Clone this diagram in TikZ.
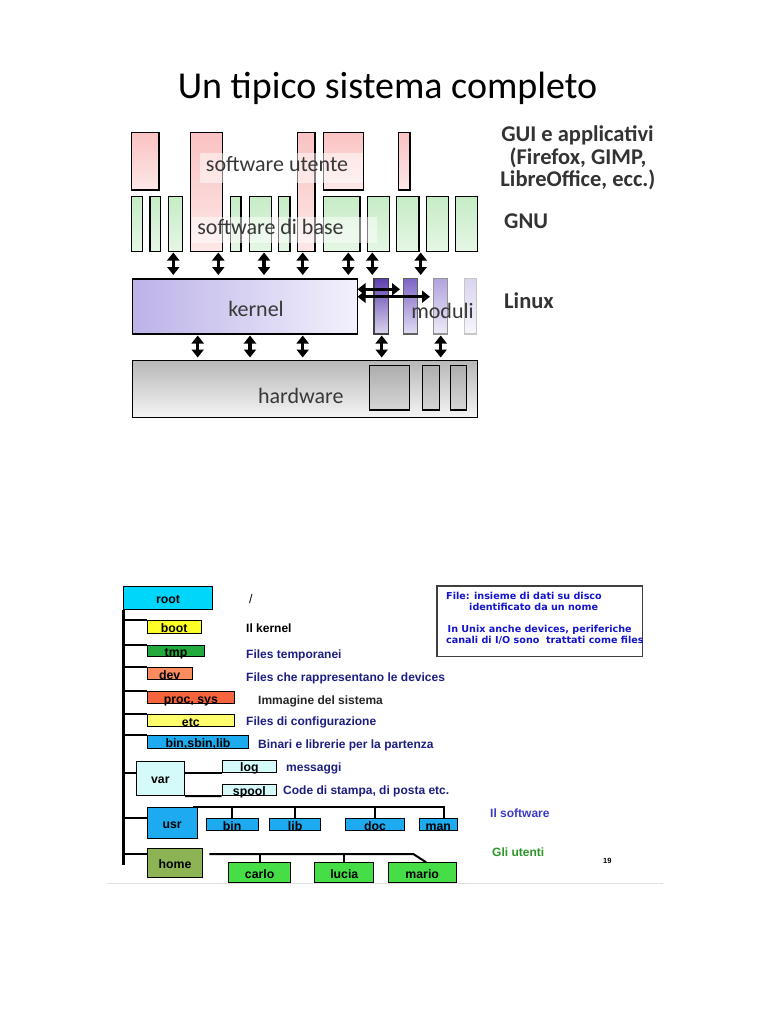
\documentclass[tikz,border=0pt]{standalone}
\usepackage{fontspec}
\setmainfont{Carlito}
\newfontfamily\arialfont{Liberation Sans}
\newfontfamily\verdfont{DejaVu Sans}
\usepackage{tikz}
\usetikzlibrary{arrows.meta}
\definecolor{pinkA}{RGB}{250,194,194}
\definecolor{pinkB}{RGB}{253,232,232}
\definecolor{greenA}{RGB}{198,236,198}
\definecolor{greenB}{RGB}{230,247,230}
\definecolor{kernA}{RGB}{188,178,232}
\definecolor{kernB}{RGB}{243,241,252}
\definecolor{modA}{RGB}{92,62,175}
\definecolor{modB}{RGB}{125,100,198}
\definecolor{modC}{RGB}{178,162,222}
\definecolor{modD}{RGB}{218,212,240}
\definecolor{rootcyan}{RGB}{0,214,250}
\definecolor{bootyel}{RGB}{255,255,40}
\definecolor{tmpgreen}{RGB}{34,170,60}
\definecolor{devsalmon}{RGB}{250,140,95}
\definecolor{procred}{RGB}{245,100,60}
\definecolor{etcyel}{RGB}{255,255,110}
\definecolor{binblue}{RGB}{30,170,238}
\definecolor{varcyan}{RGB}{212,250,250}
\definecolor{homeolive}{RGB}{140,180,85}
\definecolor{usergreen}{RGB}{70,222,70}
\definecolor{navytxt}{RGB}{30,30,130}
\definecolor{bluetxt}{RGB}{60,60,200}
\definecolor{greentxt}{RGB}{45,150,40}
\definecolor{notetxt}{RGB}{20,20,205}

\begin{document}
\begin{tikzpicture}[x=1pt,y=-1pt,
    sw/.style={draw=black, line width=1.4pt},
    dbl/.style={line width=3.4pt, {Triangle[width=12pt,length=8pt]}-{Triangle[width=12pt,length=8pt]}},
    lbl/.style={anchor=base, inner sep=0pt, font=\fontsize{22}{24}\selectfont, text=black!78},
    side/.style={anchor=base, inner sep=0pt, font=\fontsize{22.5}{24}\selectfont\bfseries, text=black!80},
    dir/.style={draw, line width=1pt, inner sep=0pt, anchor=north west, text height=11pt, text depth=0pt,
      font=\arialfont\bfseries\fontsize{12.3}{14}\selectfont},
    conn/.style={line width=2pt},
    note/.style={anchor=base west, inner sep=0pt, font=\arialfont\bfseries\fontsize{12}{14}\selectfont},
    filetxt/.style={anchor=base west, inner sep=0pt, text=notetxt, font=\verdfont\bfseries\fontsize{9.6}{11}\selectfont}]
\fill[white] (0,0) rectangle (768,1024);
\useasboundingbox (0,0) rectangle (768,1024);

\node[font=\fontsize{38}{42}\selectfont, anchor=base, inner sep=0pt] (title) at (387.5,99) {Un tipico sistema completo};

\foreach \xa/\xb/\yb in {131.7/159/190, 190.7/222.7/251.7, 297.7/315/251.7, 323.3/363.3/190, 398.3/410/190}
  \draw[sw, top color=pinkA, bottom color=pinkB] (\xa,132.7) rectangle (\xb,\yb);
\foreach \xa/\xb in {131.7/142.3, 150/160.7, 168.7/182.3, 230.7/241, 249.3/271.7, 278.7/290, 323.3/360, 367.3/389.3, 396.7/419, 426.7/448.3, 455.7/477.7}
  \draw[sw, top color=greenA, bottom color=greenB] (\xa,196.7) rectangle (\xb,251.7);
\fill[white, opacity=0.5] (200,153) rectangle (363,183);
\fill[white, opacity=0.5] (191.7,216.7) rectangle (376.7,243.3);
\node[lbl] (utente) at (277,171.7) {software utente};
\node[lbl] (base) at (270.5,235) {software di base};

\node[sw, left color=kernA, right color=kernB, anchor=north west, inner sep=0pt,
  minimum width=225pt, minimum height=55pt] (kern) at (131.7,278.3) {};
\foreach \xa/\xb/\c/\d in {374/388.3/modA/black!75, 403.3/417.7/modB/black!62, 433.3/447.7/modC/black!42, 464.3/476.7/modD/black!22}
  \draw[line width=1.4pt, draw=\d, top color=\c, bottom color=\c!22!white] (\xa,278.3) rectangle (\xb,334);
\node[lbl] (kernel) at (256,316) {kernel};
\node[lbl] (moduli) at (442.5,318.3) {moduli};

\node[sw, top color=black!28, bottom color=black!4, anchor=north west, inner sep=0pt,
  minimum width=345pt, minimum height=56.7pt] (hw) at (131.7,360) {};
\foreach \xa/\xb in {369.3/409.3, 422.7/439.3, 450.7/466.7}
  \draw[sw, top color=black!32, bottom color=black!16] (\xa,365.7) rectangle (\xb,410);
\node[lbl] (hardware) at (300.8,403.3) {hardware};

\foreach \x in {173.3,218.3,264,302.7,348.3,372.3,420.7}
  \draw[dbl] (\x,252.5) -- (\x,275);
\foreach \x in {197.7,250,302.7,381.7,440.7}
  \draw[dbl] (\x,335.5) -- (\x,357.5);
\draw[dbl] (357.5,289.3) -- (400,289.3);
\draw[dbl] (357.5,296.7) -- (430,296.7);

\node[side] (gui) at (577.5,141.7) {GUI e applicativi};
\node[side] (gui2) at (578,165) {(Firefox, GIMP,};
\node[side] (gui3) at (578,186.7) {LibreOffice, ecc.)};
\node[side, anchor=base west] (gnu) at (504,228.3) {GNU};
\node[side, anchor=base west] (linux) at (504,308.3) {Linux};

\node[dir, fill=rootcyan, minimum width=88.4pt, minimum height=22.4pt] (root) at (123.3,586.3) {root};
\node[dir, fill=bootyel, minimum width=54pt, minimum height=12.7pt] (boot) at (146.7,620.3) {boot};
\node[dir, fill=tmpgreen, minimum width=57.6pt, minimum height=11pt] (tmp) at (146.7,644.7) {tmp};
\node[dir, fill=devsalmon, minimum width=45pt, minimum height=11.4pt] (dev) at (146.7,667.3) {dev};
\node[dir, fill=procred, minimum width=87.3pt, minimum height=11.7pt] (proc) at (146.7,691.3) {proc, sys};
\node[dir, fill=etcyel, minimum width=87.3pt, minimum height=12.3pt] (etc) at (146.7,714) {etc};
\node[dir, fill=binblue, minimum width=101.6pt, minimum height=13.3pt] (bsl) at (146.7,735) {bin,sbin,lib};
\node[dir, fill=varcyan, minimum width=48.3pt, minimum height=34.3pt] (var) at (135.7,760.7) {var};
\node[dir, fill=varcyan, minimum width=54.3pt, minimum height=11.7pt] (log) at (221.7,760) {log};
\node[dir, fill=varcyan, minimum width=54.3pt, minimum height=11.5pt] (spool) at (221.7,783.5) {spool};
\node[dir, fill=binblue, minimum width=50pt, minimum height=31pt] (usr) at (146.7,807.3) {usr};
\node[dir, fill=binblue, minimum width=52pt, minimum height=11.7pt] (bin) at (205.7,818.3) {bin};
\node[dir, fill=binblue, minimum width=50.7pt, minimum height=11.7pt] (lib) at (269.3,818.3) {lib};
\node[dir, fill=binblue, minimum width=59pt, minimum height=11.7pt] (doc) at (345,818.3) {doc};
\node[dir, fill=binblue, minimum width=37.7pt, minimum height=11.7pt] (man) at (419,818.3) {man};
\node[dir, fill=homeolive, minimum width=55.6pt, minimum height=28.4pt] (home) at (146.7,848.3) {home};
\node[dir, fill=usergreen, minimum width=61.7pt, minimum height=19.4pt] (carlo) at (228.3,862.3) {carlo};
\node[dir, fill=usergreen, minimum width=59pt, minimum height=19.4pt] (lucia) at (314.3,862.3) {lucia};
\node[dir, fill=usergreen, minimum width=68pt, minimum height=19.4pt] (mario) at (387.7,862.3) {mario};

\coordinate (tend) at (123.3,864.5);
\coordinate (ubar) at (193.3,807.3);
\coordinate (ubarend) at (444,807.3);
\coordinate (hbar) at (209.3,854);
\coordinate (hbarend) at (413.3,854);
\draw[line width=2.4pt] (root.south west) -- (tend);
\foreach \n in {boot,tmp,dev,proc,etc,bsl}
  \draw[conn] (root.south west |- \n.north west) -- (\n.north west);
\draw[conn] (root.south west |- log.south) -- (var.west |- log.south);
\draw[conn] (root.south west |- bin.north) -- (usr.west |- bin.north);
\draw[conn] (root.south west |- hbar) -- (home.west |- hbar);
\draw[conn] (var.east |- log.south) -- (log.south west);
\draw[conn] (var.south east) -- (spool.south west);
\draw[conn] (ubar) -- (ubarend) -- (ubarend |- man.north);
\foreach \n in {bin,lib,doc}
  \draw[conn] (\n.north |- ubar) -- (\n.north);
\draw[conn] (hbar) -- (hbarend) -- ([xshift=4pt]mario.north);
\foreach \n in {carlo,lucia}
  \draw[conn] (\n.north |- hbar) -- (\n.north);

\node[note, font=\arialfont\fontsize{12.5}{14}\selectfont] (slash) at (249,603) {/};
\node[note] (n-boot) at (246,632) {Il kernel};
\node[note, text=navytxt] (n-tmp) at (246,658) {Files temporanei};
\node[note, text=navytxt] (n-dev) at (246,681) {Files che rappresentano le devices};
\node[note, text=black!85] (n-proc) at (258,704.7) {Immagine del sistema};
\node[note, text=navytxt] (n-etc) at (246,725.5) {Files di configurazione};
\node[note, text=navytxt] (n-bsl) at (258,748.3) {Binari e librerie per la partenza};
\node[note, text=navytxt] (n-log) at (286,771) {messaggi};
\node[note, text=navytxt] (n-spool) at (283,794.3) {Code di stampa, di posta etc.};
\node[note, text=bluetxt] (n-usr) at (490,817.5) {Il software};
\node[note, text=greentxt] (n-home) at (492,856.5) {Gli utenti};
\node[note, font=\arialfont\bfseries\fontsize{7.5}{9}\selectfont] (pagenum) at (603,863.5) {19};

\node[draw=black!75, line width=1.3pt, anchor=north west, inner sep=0pt,
  minimum width=205.4pt, minimum height=70.4pt] (filebox) at (436.3,585.3) {};
\node[filetxt] (f1) at (446,599.5) {File: insieme di dati su disco};
\node[filetxt] (f2) at (469,610.5) {identificato da un nome};
\node[filetxt] (f3) at (447.5,632) {In Unix anche devices, periferiche};
\node[filetxt] (f4) at (446,643.5) {canali di I/O sono\ \ trattati come files};

\draw[black!12, line width=1pt] (107,883) -- (663,883);
\end{tikzpicture}
\end{document}
